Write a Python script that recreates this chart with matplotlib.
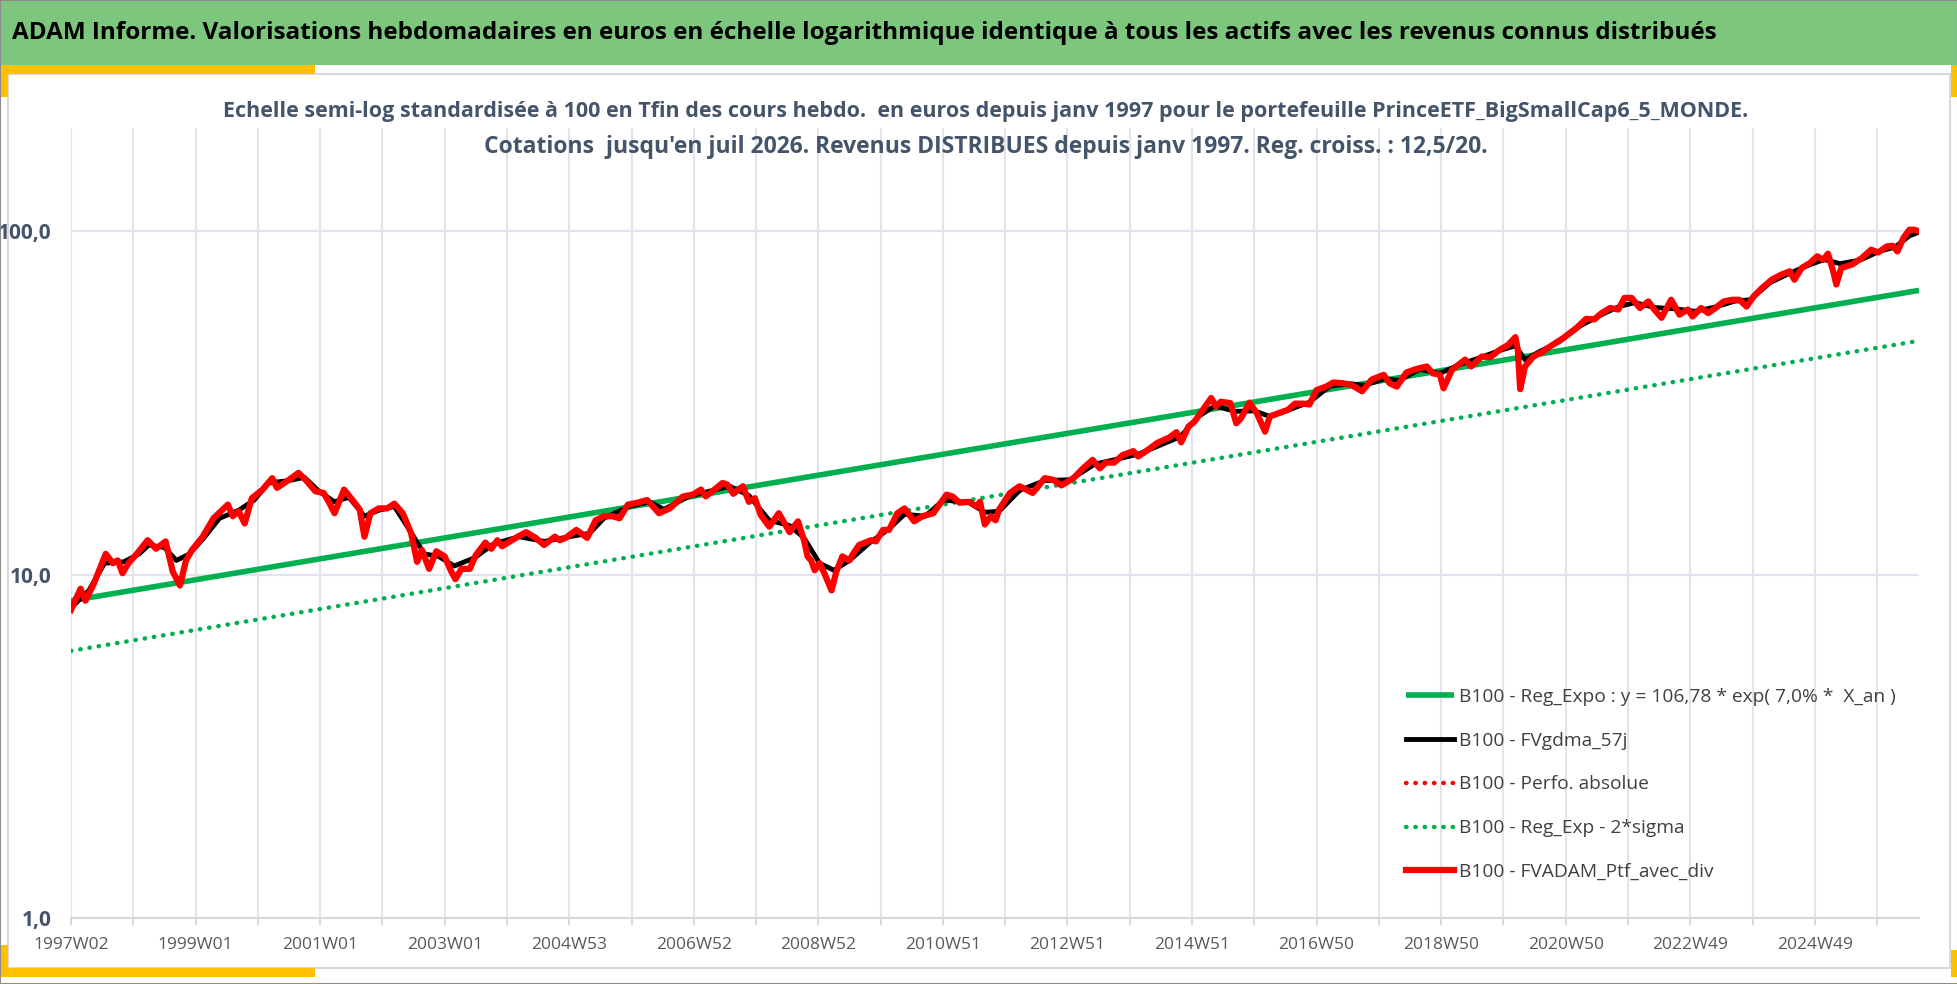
import matplotlib
matplotlib.use('Agg')
import matplotlib.pyplot as plt
from matplotlib.patches import Rectangle

plt.rcParams['font.family'] = ['Open Sans', 'DejaVu Sans']

# ---- data, x = week index from 1997W02 ----
tick_labels = ['1997W02', '1999W01', '2001W01', '2003W01', '2004W53', '2006W52',
               '2008W52', '2010W51', '2012W51', '2014W51', '2016W50', '2018W50',
               '2020W50', '2022W49', '2024W49']
n_weeks = 1543

red_weeks = [0, 8, 12, 19, 29, 35, 39, 43, 48, 55, 64, 71, 79, 85, 91, 96, 101, 110, 119, 131,
             135, 140, 145, 151, 160, 168, 172, 182, 190, 197, 204, 211, 216, 220, 228, 235,
             241, 245, 250, 257, 264, 270, 277, 284, 289, 293, 299, 305, 312, 317, 321, 326,
             333, 338, 346, 351, 356, 360, 373, 380, 388, 395, 404, 408, 413, 422, 427, 431,
             438, 445, 452, 458, 465, 473, 481, 491, 500, 511, 519, 526, 530, 539, 544, 548,
             553, 561, 566, 571, 576, 583, 591, 600, 607, 612, 615, 618, 621, 625, 629, 635,
             639, 644, 650, 653, 658, 668, 672, 678, 683, 690, 696, 704, 711, 720, 731, 736,
             742, 750, 756, 759, 763, 768, 772, 775, 784, 792, 803, 813, 820, 827, 837, 845,
             853, 859, 864, 871, 878, 887, 891, 900, 907, 917, 923, 927, 933, 938, 945, 952,
             956, 960, 968, 973, 977, 984, 990, 997, 1001, 1009, 1016, 1022, 1029, 1034, 1040,
             1048, 1054, 1062, 1069, 1078, 1086, 1096, 1101, 1107, 1115, 1123, 1132, 1137,
             1143, 1146, 1153, 1164, 1169, 1178, 1185, 1193, 1200, 1206, 1208, 1210, 1214,
             1221, 1228, 1235, 1246, 1257, 1265, 1272, 1278, 1285, 1292, 1297, 1303, 1310,
             1317, 1322, 1328, 1336, 1343, 1350, 1354, 1361, 1367, 1373, 1380, 1387, 1393,
             1399, 1405, 1412, 1420, 1428, 1435, 1439, 1445, 1452, 1458, 1463, 1467, 1471,
             1474, 1478, 1487, 1495, 1503, 1509, 1516, 1521, 1525, 1530, 1535, 1539, 1543]
red_vals = [7.9, 9.1, 8.4, 9.4, 11.5, 10.8, 11.0, 10.1, 10.8, 11.5, 12.6, 11.9, 12.5, 10.2, 9.3,
            11.0, 11.8, 12.9, 14.6, 16.0, 14.8, 15.3, 14.1, 16.7, 17.7, 19.1, 17.9, 18.9, 19.8,
            18.7, 17.5, 17.3, 16.1, 15.1, 17.7, 16.5, 15.5, 12.9, 15.1, 15.6, 15.6, 16.1, 15.1,
            13.2, 10.9, 11.8, 10.4, 11.7, 11.3, 10.3, 9.7, 10.4, 10.4, 11.4, 12.4, 11.9, 12.6,
            12.1, 12.9, 13.3, 12.8, 12.2, 12.9, 12.6, 12.8, 13.5, 13.1, 12.8, 14.4, 14.8, 14.8,
            14.6, 16.0, 16.2, 16.5, 15.1, 15.6, 16.9, 17.1, 17.7, 16.9, 17.9, 18.5, 18.3, 17.2,
            18.1, 16.3, 16.7, 14.9, 13.8, 15.1, 13.3, 14.3, 12.6, 11.3, 11.0, 10.3, 10.8, 10.1,
            9.0, 10.2, 11.3, 11.0, 11.5, 12.2, 12.6, 12.5, 13.5, 13.5, 15.1, 15.6, 14.3, 14.8,
            15.1, 17.1, 16.9, 16.2, 16.3, 15.8, 16.3, 14.0, 14.8, 14.4, 15.5, 17.3, 18.1, 17.3,
            19.1, 18.9, 18.2, 19.1, 20.4, 21.6, 20.4, 21.2, 21.2, 22.3, 22.9, 22.1, 23.2, 24.2,
            25.1, 26.0, 24.3, 27.0, 27.9, 30.2, 32.7, 30.9, 31.9, 31.6, 27.6, 28.6, 31.7, 29.6,
            26.1, 28.9, 29.6, 30.2, 31.5, 31.5, 31.3, 34.5, 35.3, 36.3, 36.1, 35.7, 34.2, 37.0,
            38.2, 36.1, 35.3, 38.8, 39.7, 40.4, 38.6, 38.2, 34.9, 39.5, 42.3, 40.4, 43.2, 43.0,
            45.2, 46.7, 49.2, 45.2, 34.7, 40.4, 43.2, 44.4, 46.2, 48.9, 52.3, 55.6, 55.4, 57.8,
            59.8, 59.2, 64.0, 64.0, 59.8, 62.5, 59.2, 56.0, 63.2, 57.2, 59.2, 56.5, 59.8, 57.8,
            59.8, 62.5, 63.2, 63.2, 60.4, 64.7, 68.4, 72.3, 74.8, 76.5, 72.3, 78.2, 80.9, 84.6,
            82.6, 86.1, 77.3, 70.0, 78.2, 80.0, 83.5, 88.4, 86.8, 90.4, 90.8, 87.4, 95.7, 101.1,
            101.1, 100.0]

black_weeks = [0, 15, 28, 44, 57, 65, 78, 88, 99, 111, 124, 140, 153, 165, 182, 195, 207, 220,
               232, 245, 257, 270, 282, 295, 307, 320, 337, 353, 374, 395, 416, 433, 445, 466,
               483, 495, 516, 533, 550, 566, 583, 600, 612, 625, 637, 650, 667, 683, 696, 713,
               729, 750, 763, 775, 792, 813, 834, 855, 876, 892, 909, 926, 942, 955, 972, 988,
               1001, 1018, 1034, 1051, 1068, 1080, 1097, 1109, 1126, 1143, 1160, 1176, 1193,
               1206, 1214, 1226, 1243, 1260, 1277, 1293, 1306, 1322, 1339, 1356, 1373, 1389,
               1402, 1419, 1435, 1452, 1464, 1477, 1494, 1510, 1523, 1535, 1543]
black_vals = [8.0, 9.0, 10.8, 10.9, 11.5, 12.2, 12.0, 11.0, 11.5, 12.8, 14.6, 15.4, 16.5, 18.5,
              18.8, 19.2, 17.5, 16.3, 16.8, 14.8, 15.4, 15.8, 13.6, 11.5, 11.3, 10.6, 11.2, 12.3,
              12.9, 12.5, 12.9, 13.2, 14.6, 15.8, 16.3, 15.5, 16.9, 17.5, 18.1, 17.0, 14.4, 13.9,
              12.8, 10.8, 10.3, 11.0, 12.4, 13.6, 15.0, 14.8, 16.5, 16.2, 15.2, 15.3, 17.6, 18.8,
              18.9, 21.0, 21.8, 22.5, 23.8, 25.2, 29.0, 31.0, 29.9, 30.0, 28.9, 30.3, 31.8, 35.4,
              36.0, 35.6, 37.2, 36.8, 39.6, 38.6, 41.0, 42.8, 45.0, 46.4, 42.3, 44.6, 47.8, 53.0,
              57.0, 60.5, 62.0, 60.0, 59.5, 58.5, 60.2, 62.6, 63.2, 71.0, 75.5, 80.0, 82.8, 80.5,
              82.5, 87.5, 90.0, 97.0, 99.5]

# regression line and lower band: start / end values
reg_weeks = [0, 1543]
reg_vals = [8.4, 67.3]
sigma_vals = [6.0, 48.0]

W, H = 1958, 984


def px_rect(x0, y0, x1, y1, **kw):
    # rectangle given in pixels from the top-left corner
    return Rectangle((x0 / W, 1 - y1 / H), (x1 - x0) / W, (y1 - y0) / H,
                     transform=fig.transFigure, **kw)


fig = plt.figure(figsize=(W / 100, H / 100), dpi=100)
fig.patch.set_facecolor('white')

# frame decorations
fig.patches.append(px_rect(0, 0, W, 65, facecolor='#7DC67D', edgecolor='none', zorder=0))
fig.patches.append(px_rect(8, 74, 1950, 968, facecolor='none', edgecolor='#D9D9D9', lw=1.5))
for r in [(0, 65, 315, 74), (0, 65, 8, 97), (0, 968, 315, 977), (0, 945, 8, 977),
          (1951, 65, 1958, 97), (1951, 950, 1958, 977)]:
    fig.patches.append(px_rect(*r, facecolor='#FFC000', edgecolor='none'))
fig.patches.append(px_rect(0, 0, W, H, facecolor='none', edgecolor='#8C8C8C', lw=1.5))

fig.text(12 / W, 1 - 33 / H,
         'ADAM Informe. Valorisations hebdomadaires en euros en échelle logarithmique '
         'identique à tous les actifs avec les revenus connus distribués',
         ha='left', va='center', fontsize=17.5, fontweight='bold', color='black')
fig.text(986 / W, 1 - 111 / H,
         'Echelle semi-log standardisée à 100 en Tfin des cours hebdo.  en euros depuis janv 1997 '
         'pour le portefeuille PrinceETF_BigSmallCap6_5_MONDE.',
         ha='center', va='center', fontsize=15.5, fontweight='bold', color='#44546A')
fig.text(986 / W, 1 - 147 / H,
         "Cotations  jusqu'en juil 2026. Revenus DISTRIBUES depuis janv 1997. Reg. croiss. : 12,5/20.",
         ha='center', va='center', fontsize=16.5, fontweight='bold', color='#44546A')

ax = fig.add_axes([71 / W, (H - 918) / H, (1919 - 71) / W, (918 - 128) / H])
ax.set_facecolor('none')
ax.set_yscale('log')
ax.set_xlim(0, n_weeks)
ax.set_ylim(1, 200)

dots = (0, (0.1, 2.0))
ax.plot(reg_weeks, reg_vals, color='#00B050', lw=4.0, solid_capstyle='butt', zorder=3,
        label='B100 - Reg_Expo : y = 106,78 * exp( 7,0% *  X_an )')
ax.plot(black_weeks, black_vals, color='black', lw=3.5, zorder=4, label='B100 - FVgdma_57j')
ax.plot(red_weeks, red_vals, color='#FF0000', lw=3.2, ls=dots,
        dash_capstyle='round', zorder=2, label='B100 - Perfo. absolue')
ax.plot(reg_weeks, sigma_vals, color='#00B050', lw=3.2, ls=dots,
        dash_capstyle='round', zorder=3, label='B100 - Reg_Exp - 2*sigma')
ax.plot(red_weeks, red_vals, color='#FF0000', lw=4.5, zorder=5, solid_joinstyle='round',
        label='B100 - FVADAM_Ptf_avec_div')

grid_c = '#E1E4EC'
ax.set_yticks([1, 10, 100])
ax.set_yticklabels(['1,0', '10,0', '100,0'])
ax.yaxis.set_minor_locator(matplotlib.ticker.NullLocator())
ax.set_xticks(range(0, n_weeks, 52))
xl = []
for i in range(len(range(0, n_weeks, 52))):
    xl.append(tick_labels[i // 2] if i % 2 == 0 else '')
ax.set_xticklabels(xl)
ax.grid(True, which='major', color=grid_c, lw=1.5, zorder=0)
for s in ['top', 'right', 'left']:
    ax.spines[s].set_visible(False)
ax.spines['bottom'].set_color('#D9D9D9')
ax.spines['bottom'].set_linewidth(1.5)
ax.tick_params(axis='y', length=0, pad=14, labelsize=15, labelcolor='#44546A')
for t in ax.get_yticklabels():
    t.set_fontweight('bold')
ax.tick_params(axis='x', length=5, width=1.5, color='#D9D9D9', pad=9, labelsize=12.5,
               labelcolor='#595959')

leg = ax.legend(loc='upper left', bbox_to_anchor=((1398 - 71) / (1919 - 71), (918 - 680) / (918 - 128)),
                frameon=False, fontsize=13.8, handlelength=2.5, labelspacing=1.35,
                handletextpad=0.3, borderaxespad=0)
for t in leg.get_texts():
    t.set_color('#404040')

fig.savefig('out.png', dpi=100)
